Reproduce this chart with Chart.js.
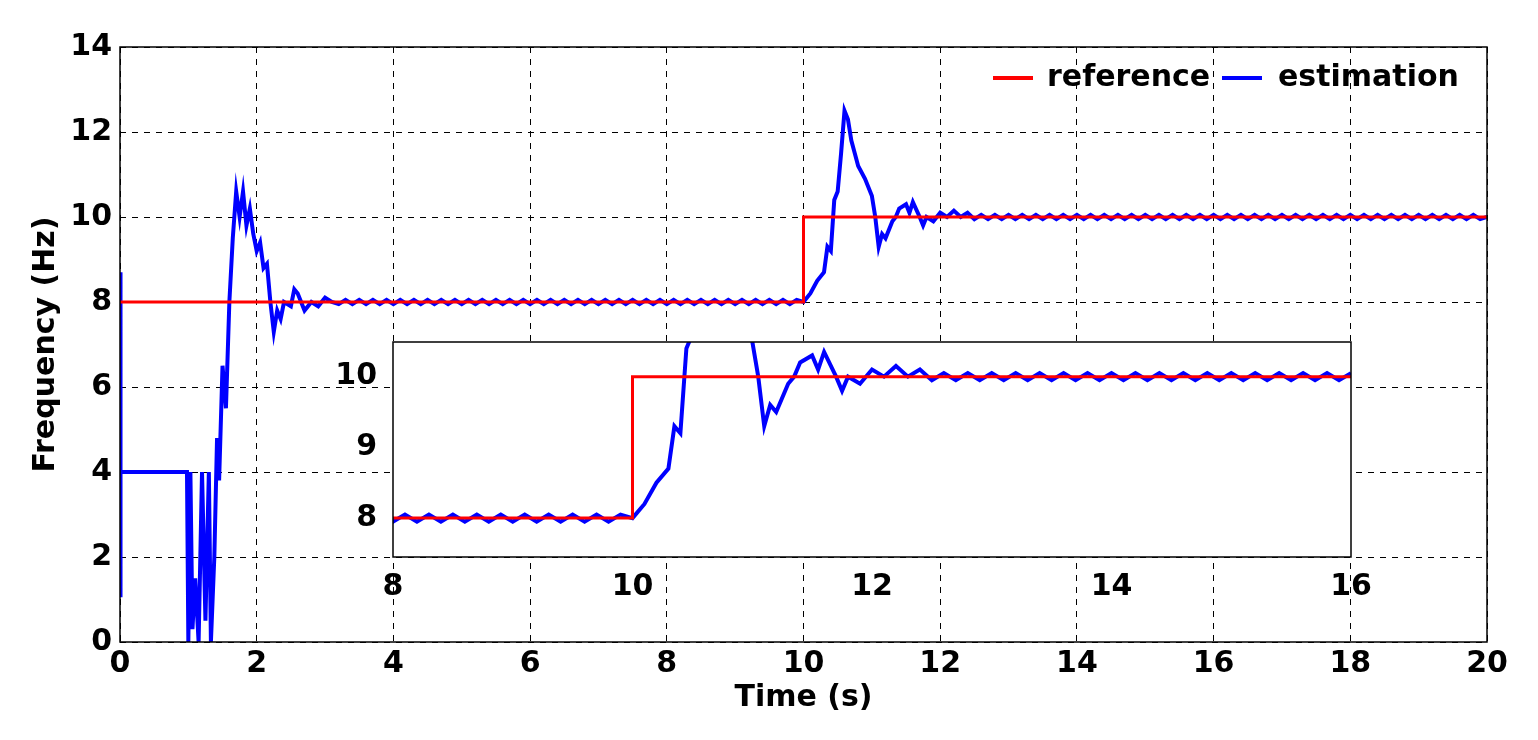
<!DOCTYPE html>
<html>
<head>
<meta charset="utf-8">
<script src="https://cdn.jsdelivr.net/npm/chart.js@4/dist/chart.umd.min.js"></script>
<style>
body{margin:0;background:#fff;}
#wrap{position:relative;width:1538px;height:740px;}
#insetChart{position:absolute;left:330px;top:316px;}
</style>
</head>
<body>
<div id="wrap">
<canvas id="mainChart" width="1538" height="740"></canvas>
<canvas id="insetChart" width="1050" height="289"></canvas>
</div>
<script>
var refTime = [0, 10, 10, 20];
var refFreq = [8, 8, 10, 10];

var estTime = [0,0.005,0.01,0.98,1.0,1.03,1.06,1.1,1.15,1.2,1.25,1.3,1.33,1.38,1.42,1.45,1.5,1.55,1.6,1.65,1.7,1.75,1.8,1.85,1.9,1.95,2.0,2.05,2.1,2.15,2.2,2.25,2.3,2.35,2.4,2.5,2.55,2.6,2.7,2.8,2.9,3.0,3.1,3.2,3.3,
3.4,3.5,3.6,3.7,3.8,3.9,4.0,4.1,4.2,4.3,4.4,4.5,4.6,4.7,4.8,4.9,5.0,5.1,5.2,5.3,5.4,5.5,5.6,5.7,5.8,5.9,6.0,6.1,6.2,6.3,6.4,6.5,6.6,6.7,6.8,6.9,7.0,7.1,7.2,7.3,7.4,7.5,7.6,7.7,7.8,7.9,8.0,8.1,8.2,8.3,8.4,8.5,8.6,8.7,8.8,8.9,9.0,9.1,9.2,9.3,9.4,9.5,9.6,9.7,9.8,9.9,
10.0,10.1,10.2,10.3,10.35,10.4,10.45,10.5,10.55,10.6,10.65,10.7,10.75,10.8,10.9,11.0,11.05,11.1,11.15,11.2,11.3,11.35,11.4,11.5,11.55,11.6,11.7,11.75,11.8,11.9,12.0,12.1,12.2,12.3,12.4,12.5,12.6,12.7,12.8,12.9,
13.0,13.1,13.2,13.3,13.4,13.5,13.6,13.7,13.8,13.9,14.0,14.1,14.2,14.3,14.4,14.5,14.6,14.7,14.8,14.9,15.0,15.1,15.2,15.3,15.4,15.5,15.6,15.7,15.8,15.9,16.0,16.1,16.2,16.3,16.4,16.5,16.6,16.7,16.8,16.9,17.0,17.1,17.2,17.3,17.4,17.5,17.6,17.7,17.8,17.9,18.0,18.1,18.2,18.3,18.4,18.5,18.6,18.7,18.8,18.9,19.0,19.1,19.2,19.3,19.4,19.5,19.6,19.7,19.8,19.9,20.0];
var estFreq = [1.1,8.7,4,4,0,4,0.3,1.5,0,4,0.5,4,0,2,4.8,3.8,6.5,5.5,8,9.5,10.6,10,10.6,9.8,10.2,9.6,9.2,9.4,8.8,8.9,8.0,7.3,7.8,7.6,8.0,7.9,8.3,8.2,7.8,8.0,7.9,8.1,8.0,7.95,8.05,
7.95,8.05,7.95,8.05,7.95,8.05,7.95,8.05,7.95,8.05,7.95,8.05,7.95,8.05,7.95,8.05,7.95,8.05,7.95,8.05,7.95,8.05,7.95,8.05,7.95,8.05,7.95,8.05,7.95,8.05,7.95,8.05,7.95,8.05,7.95,8.05,7.95,8.05,7.95,8.05,7.95,8.05,7.95,8.05,7.95,8.05,7.95,8.05,7.95,8.05,7.95,8.05,7.95,8.05,7.95,8.05,7.95,8.05,7.95,8.05,7.95,8.05,7.95,8.05,7.95,8.05,
8.0,8.2,8.5,8.7,9.3,9.2,10.4,10.6,11.5,12.5,12.3,11.8,11.5,11.2,10.9,10.5,10.0,9.3,9.6,9.5,9.9,10.0,10.2,10.3,10.1,10.35,10.0,9.8,10.0,9.9,10.1,10.0,10.15,10.0,10.1,9.95,10.05,9.95,10.05,9.95,
10.05,9.95,10.05,9.95,10.05,9.95,10.05,9.95,10.05,9.95,10.05,9.95,10.05,9.95,10.05,9.95,10.05,9.95,10.05,9.95,10.05,9.95,10.05,9.95,10.05,9.95,10.05,9.95,10.05,9.95,10.05,9.95,10.05,9.95,10.05,9.95,10.05,9.95,10.05,9.95,10.05,9.95,10.05,9.95,10.05,9.95,10.05,9.95,10.05,9.95,10.05,9.95,10.05,9.95,10.05,9.95,10.05,9.95,10.05,9.95,10.05,9.95,10.05,9.95,10.05,9.95,10.05,9.95,10.05,9.95,10.0];

var mainXTicks = [0,2,4,6,8,10,12,14,16,18,20];
var mainYTicks = [0,2,4,6,8,10,12,14];
var insetXTicks = [8,10,12,14,16];
var insetYTicks = [8,9,10];

function pts(t, f) { return t.map(function(v, i){ return {x: v, y: f[i]}; }); }

var font = {family: 'DejaVu Sans', weight: 'bold', size: 30};
var grid = {color: '#000', lineWidth: 1, drawTicks: false};
var dashBorder = {display: false, dash: [6, 6]};

var boxPlugin = {
	id: 'box',
	beforeDraw: function(chart) {
		var a = chart.chartArea, c = chart.ctx;
		c.save();
		c.fillStyle = '#fff';
		c.fillRect(a.left, a.top, a.right - a.left, a.bottom - a.top);
		c.restore();
	},
	afterDraw: function(chart) {
		var a = chart.chartArea, c = chart.ctx;
		c.save();
		c.strokeStyle = '#000';
		c.lineWidth = 1.5;
		c.strokeRect(a.left, a.top, a.right - a.left, a.bottom - a.top);
		c.restore();
	}
};

var legendPlugin = {
	id: 'myLegend',
	afterDraw: function(chart) {
		var c = chart.ctx;
		c.save();
		c.font = 'bold 30px "DejaVu Sans"';
		c.fillStyle = '#000';
		c.textBaseline = 'middle';
		c.lineWidth = 4;
		c.strokeStyle = '#ff0000';
		c.beginPath(); c.moveTo(993, 78); c.lineTo(1033, 78); c.stroke();
		c.fillText('reference', 1047, 78);
		c.strokeStyle = '#0000ff';
		c.beginPath(); c.moveTo(1222, 78); c.lineTo(1262, 78); c.stroke();
		c.fillText('estimation', 1278, 78);
		c.restore();
	}
};

function ticksFrom(list) {
	return function(scale) {
		scale.ticks = list.map(function(v){ return {value: v}; });
	};
}

new Chart(document.getElementById('mainChart'), {
	type: 'line',
	data: {
		datasets: [
			{data: pts(refTime, refFreq), borderColor: '#ff0000', borderWidth: 3, pointRadius: 0},
			{data: pts(estTime, estFreq), borderColor: '#0000ff', borderWidth: 4, pointRadius: 0}
		]
	},
	options: {
		responsive: false, animation: false,
		layout: {padding: {top: 47, right: 51, left: 24, bottom: 24}},
		plugins: {legend: {display: false}, tooltip: {enabled: false}},
		scales: {
			x: {type: 'linear', min: 0, max: 20, grid: grid, border: dashBorder,
				afterBuildTicks: ticksFrom(mainXTicks),
				afterFit: function(s){ s.height = 74; },
				ticks: {color: '#000', font: font, padding: 4, maxRotation: 0},
				title: {display: true, text: 'Time (s)', color: '#000', font: font, padding: 0}},
			y: {type: 'linear', min: 0, max: 14, grid: grid, border: dashBorder,
				afterBuildTicks: ticksFrom(mainYTicks),
				afterFit: function(s){ s.width = 96; },
				ticks: {color: '#000', font: font, padding: 8},
				title: {display: true, text: 'Frequency (Hz)', color: '#000', font: font, padding: {bottom: 0}}}
		}
	},
	plugins: [boxPlugin, legendPlugin]
});

new Chart(document.getElementById('insetChart'), {
	type: 'line',
	data: {
		datasets: [
			{data: pts(refTime, refFreq), borderColor: '#ff0000', borderWidth: 3, pointRadius: 0},
			{data: pts(estTime, estFreq), borderColor: '#0000ff', borderWidth: 4, pointRadius: 0}
		]
	},
	options: {
		responsive: false, animation: false,
		layout: {padding: {top: 3, right: 29}},
		plugins: {legend: {display: false}, tooltip: {enabled: false}},
		scales: {
			x: {type: 'linear', min: 8, max: 16, grid: {display: false}, border: {display: false},
				afterBuildTicks: ticksFrom(insetXTicks),
				afterFit: function(s){ s.height = 48; },
				ticks: {color: '#000', font: font, padding: 4, maxRotation: 0}},
			y: {type: 'linear', min: 7.45, max: 10.49, grid: {display: false}, border: {display: false},
				afterBuildTicks: ticksFrom(insetYTicks),
				afterFit: function(s){ s.width = 63; },
				ticks: {color: '#000', font: font, padding: 8}}
		}
	},
	plugins: [boxPlugin]
});
</script>
</body>
</html>
